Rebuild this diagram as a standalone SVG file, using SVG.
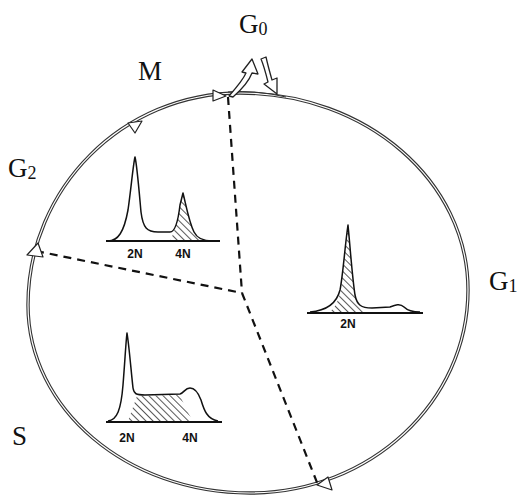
<svg xmlns="http://www.w3.org/2000/svg" width="522" height="496" viewBox="0 0 522 496">
<defs>
<pattern id="hatch" width="5" height="5" patternUnits="userSpaceOnUse" patternTransform="rotate(-45)">
<line x1="0" y1="0" x2="0" y2="5" stroke="#111" stroke-width="1.4"/>
</pattern>
<style>
.cycO{fill:none;stroke:#333;stroke-width:3.4}
.cycI{fill:none;stroke:#fff;stroke-width:1.2}
.dash{fill:none;stroke:#111;stroke-width:2.2;stroke-dasharray:8 6}
.hist{fill:none;stroke:#111;stroke-width:1.5;stroke-linejoin:round}
.base{stroke:#111;stroke-width:1.8}
.tri{fill:#fff;stroke:#222;stroke-width:1.2;stroke-linejoin:round}
.lbl{font-family:"Liberation Serif",serif;font-size:27px;fill:#111}
.sub{font-size:18px}
.sm{font-family:"Liberation Sans",sans-serif;font-size:12px;font-weight:bold;fill:#111;text-anchor:middle}
.harr{fill:#fff;stroke:#222;stroke-width:1.3;stroke-linejoin:round}
</style>
</defs>
<rect width="522" height="496" fill="#fff"/>
<g id="cycle">
<path class="cycO" d="M240,93 C366,93 468,181 468,290 C468,402 370,493 250,493 C127,493 28,409 28,305 C28,188 123,93 240,93 Z"/>
<path class="cycI" d="M240,93 C366,93 468,181 468,290 C468,402 370,493 250,493 C127,493 28,409 28,305 C28,188 123,93 240,93 Z"/>
<path fill="none" stroke="#333" stroke-width="1" d="M228,92 Q256,90 286,97"/>
</g>
<g id="connectors">
<path class="dash" d="M228,97 L242,293"/>
<path class="dash" d="M36,251 L242,293"/>
<path class="dash" d="M242,293 L318,485"/>
<polygon class="tri" points="213,90 213,101 226,96"/>
<polygon class="tri" points="128,123 142,121 135,133"/>
<polygon class="tri" points="38,243 27,255 43,257"/>
<polygon class="tri" points="317,485 328,477 332,490"/>
<path class="harr" d="M229,96 C236,88 243,80 246,73 L242,72 L252,59 L258,74 L252,73 C249,81 241,90 233,97 Z"/>
<path class="harr" d="M261,59 L266,57 C268,66 270,73 272,80 L277,78 L277,94 L264,84 L268,82 C266,74 264,66 261,59 Z"/>
</g>
<g id="labels">
<text class="lbl" x="239" y="33">G<tspan class="sub" dy="2">0</tspan></text>
<text class="lbl" x="138" y="80">M</text>
<text class="lbl" x="8" y="177">G<tspan class="sub" dy="2">2</tspan></text>
<text class="lbl" x="489" y="290">G<tspan class="sub" dy="2">1</tspan></text>
<text class="lbl" x="12" y="445">S</text>
</g>
<g id="hist-g2m">
<path d="M170,241 C173,235 177,225 180,205 L183,193 C186,205 189,222 194,232 C197,238 200,241 203,241 Z" fill="url(#hatch)"/>
<path class="hist" d="M108,241 C118,241 124,232 128,210 C131,190 133,165 135,157 C137,165 139,190 141,212 C143,228 147,232 158,232 L170,232 C175,232 178,222 180,205 L183,193 C186,205 189,222 194,232 C197,238 202,241 212,241"/>
<line class="base" x1="106" y1="241" x2="220" y2="241"/>
<text class="sm" x="135" y="258">2N</text>
<text class="sm" x="183" y="258">4N</text>
</g>
<g id="hist-g1">
<path d="M328,313 C335,309 339,300 341,288 C343,272 345,245 348,225 C350,245 352,275 355,295 C357,305 360,310 365,313 Z" fill="url(#hatch)"/>
<path class="hist" d="M310,312 C322,311 336,306 340,290 C343,275 345,245 348,225 C350,245 352,275 355,295 C357,305 361,308 372,308 L390,307 C395,305 400,303 404,307 C407,310 412,312 420,312"/>
<line class="base" x1="307" y1="313" x2="423" y2="313"/>
<text class="sm" x="348" y="328">2N</text>
</g>
<g id="hist-s">
<path d="M128,421 L137,396 L180,395 C182,400 186,410 193,421 Z" fill="url(#hatch)"/>
<path class="hist" d="M108,421 C117,420 121,410 123,385 C125,360 126,340 127,333 C129,345 131,370 133,388 C134,394 136,395 145,395 L180,394 C184,393 185,388 190,388 C195,388 198,392 201,400 C204,410 207,419 218,421"/>
<line class="base" x1="106" y1="422" x2="222" y2="422"/>
<text class="sm" x="127" y="442">2N</text>
<text class="sm" x="190" y="442">4N</text>
</g>
</svg>
